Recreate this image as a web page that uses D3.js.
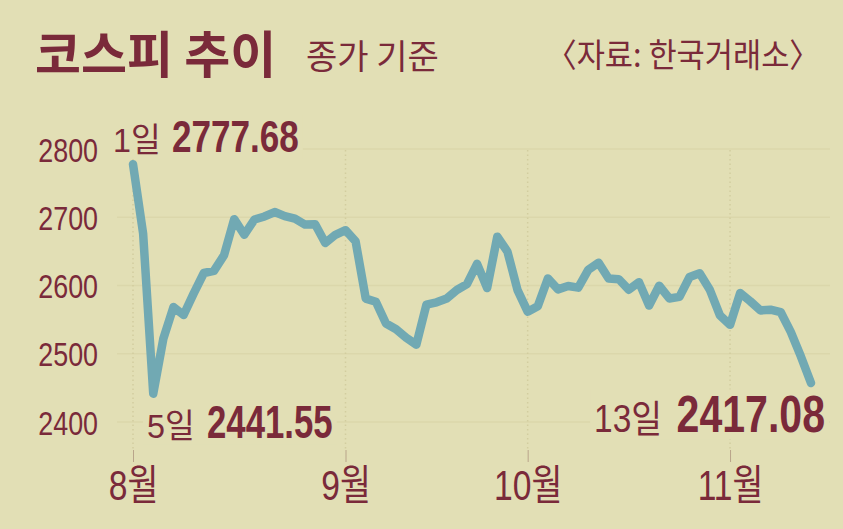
<!DOCTYPE html>
<html>
  <head>
    <meta http-equiv="Content-type" content="text/html; charset=utf-8">
    <title>코스피 추이</title>
    <script src="https://d3js.org/d3.v7.min.js"></script>
    <style>
      html, body { margin: 0; padding: 0; background: #e2dfb5; }
      svg { display: block; }
      .num { font-family: "Liberation Sans", Arial, "Noto Sans CJK KR", sans-serif; }
      .kr { font-family: "Noto Sans CJK KR", "Noto Sans", sans-serif; }
    </style>
  </head>
  <body>
    <div id="chart"></div>
    <script type="text/javascript">
      // KOSPI closing index, trading days 2024-08-01 .. 2024-11-13
      var dates = [
        "08-01","08-02","08-05","08-06","08-07","08-08","08-09","08-12","08-13","08-14",
        "08-16","08-19","08-20","08-21","08-22","08-23","08-26","08-27","08-28","08-29","08-30",
        "09-02","09-03","09-04","09-05","09-06","09-09","09-10","09-11","09-12","09-13",
        "09-19","09-20","09-23","09-24","09-25","09-26","09-27","09-30",
        "10-02","10-04","10-07","10-08","10-10","10-11","10-14","10-15","10-16","10-17",
        "10-18","10-21","10-22","10-23","10-24","10-25","10-28","10-29","10-30","10-31",
        "11-01","11-04","11-05","11-06","11-07","11-08","11-11","11-12","11-13"
      ];
      var closes = [
        2777.68, 2676.19, 2441.55, 2522.15, 2568.41, 2556.73, 2588.43, 2618.30, 2621.50, 2644.50,
        2697.23, 2674.36, 2696.63, 2701.13, 2707.67, 2701.69, 2698.01, 2689.25, 2689.83, 2662.28, 2674.31,
        2681.00, 2664.63, 2580.80, 2576.20, 2544.28, 2535.93, 2523.43, 2513.37, 2572.09, 2575.41,
        2580.80, 2593.37, 2602.01, 2631.68, 2596.32, 2671.57, 2649.78, 2593.27,
        2561.69, 2569.71, 2610.38, 2594.36, 2599.16, 2596.91, 2623.25, 2633.45, 2610.36, 2609.30,
        2593.82, 2604.92, 2570.70, 2599.62, 2581.03, 2583.27, 2612.43, 2617.80, 2593.79, 2556.15,
        2542.36, 2588.97, 2576.88, 2563.51, 2564.63, 2561.15, 2532.00, 2496.00, 2457.00
      ];
      var yTicks = [2400, 2500, 2600, 2700, 2800];
      var monthTicks = ["08-01", "09-02", "10-02", "11-01"];
      var monthLabels = ["8월", "9월", "10월", "11월"];

      var callDates = ["08-01", "08-05", "11-13"];
      var callDays = ["1일", "5일", "13일"];
      var callValues = ["2777.68", "2441.55", "2417.08"];

      var width = 843,
        height = 529;

      var bg = "#e2dfb5",
        maroon = "#7a2a3a",
        lineColor = "#71a9b3";

      var data = dates.map(function(d, i) { return { date: d, value: closes[i] }; });

      var x = d3.scalePoint()
        .domain(dates)
        .range([133, 811]);

      var y = d3.scaleLinear()
        .domain([2400, 2800])
        .range([422, 149]);

      var svg = d3.select("#chart").append("svg")
        .attr("width", width)
        .attr("height", height);

      svg.append("rect")
        .attr("width", width)
        .attr("height", height)
        .attr("fill", bg);

      // title block
      svg.append("text")
        .attr("class", "kr")
        .attr("x", 35)
        .attr("y", 73)
        .attr("fill", maroon)
        .style("font-size", "50px")
        .style("font-weight", "bold")
        .text("코스피 추이");

      svg.append("text")
        .attr("class", "kr")
        .attr("x", 306)
        .attr("y", 69)
        .attr("fill", maroon)
        .style("font-size", "34px")
        .text("종가 기준");

      svg.append("text")
        .attr("class", "kr")
        .attr("x", 546)
        .attr("y", 67)
        .attr("fill", maroon)
        .attr("textLength", 274)
        .attr("lengthAdjust", "spacingAndGlyphs")
        .style("font-size", "33px")
        .text("〈자료: 한국거래소〉");

      // horizontal grid
      svg.append("g")
        .selectAll("line")
        .data(yTicks)
        .enter().append("line")
        .attr("x1", 117)
        .attr("x2", 830)
        .attr("y1", function(d) { return y(d); })
        .attr("y2", function(d) { return y(d); })
        .attr("stroke", "#dbd7ab")
        .attr("stroke-width", 1.5);

      // dotted month guides
      svg.append("g")
        .selectAll("line")
        .data(monthTicks)
        .enter().append("line")
        .attr("x1", function(d) { return x(d); })
        .attr("x2", function(d) { return x(d); })
        .attr("y1", 150)
        .attr("y2", 450)
        .attr("stroke", "#d2cd9f")
        .attr("stroke-width", 1.5)
        .attr("stroke-dasharray", "1.5,3");

      // y axis labels (condensed)
      var yAxis = svg.append("g")
        .attr("class", "num")
        .attr("transform", "translate(98,0)")
        .call(d3.axisLeft(y).tickValues(yTicks).tickSize(0).tickPadding(0).tickFormat(d3.format("d")));
      yAxis.select(".domain").remove();
      yAxis.selectAll("text")
        .attr("fill", maroon)
        .attr("dy", "0.36em")
        .attr("transform", "scale(0.79,1)")
        .style("font-size", "34px");

      // x axis
      var xAxis = svg.append("g")
        .attr("class", "num")
        .attr("transform", "translate(0,450)")
        .call(d3.axisBottom(x)
          .tickValues(monthTicks)
          .tickSize(12)
          .tickPadding(8)
          .tickFormat(function(d, i) { return monthLabels[i]; }));
      xAxis.select(".domain").remove();
      xAxis.selectAll("line")
        .attr("stroke", "#b9a58a")
        .attr("stroke-width", 1);
      xAxis.selectAll("text")
        .attr("fill", maroon)
        .attr("transform", "scale(0.8,1)")
        .style("font-size", "42px");

      // callout labels: day at dayX, value at valueX, both on one baseline
      var labelPos = [
        { dayX: 113, valueX: 172, y: 152, anchor: "start", daySize: 34, daySx: 0.95, size: 45, sx: 0.78 },
        { dayX: 147, valueX: 207, y: 438, anchor: "start", daySize: 34, daySx: 0.95, size: 47, sx: 0.74 },
        { dayX: 662, valueX: 825, y: 432, anchor: "end", daySize: 38, daySx: 0.88, size: 52, sx: 0.79 }
      ];

      callDates.forEach(function(d, i) {
        var p = labelPos[i];
        var g = svg.append("g").attr("class", "num");
        var rect = g.append("rect").attr("fill", bg);

        g.append("text")
          .attr("transform", "translate(" + p.dayX + "," + p.y + ") scale(" + p.daySx + ",1)")
          .attr("text-anchor", p.anchor)
          .attr("fill", maroon)
          .style("font-size", p.daySize + "px")
          .text(callDays[i]);

        g.append("text")
          .attr("transform", "translate(" + p.valueX + "," + p.y + ") scale(" + p.sx + ",1)")
          .attr("text-anchor", p.anchor)
          .attr("fill", maroon)
          .style("font-size", p.size + "px")
          .style("font-weight", "bold")
          .text(callValues[i]);

        var b = g.node().getBBox();
        rect.attr("x", b.x - 4)
          .attr("y", b.y + 4)
          .attr("width", b.width + 8)
          .attr("height", b.height - 8);
      });

      // index line
      var line = d3.line()
        .x(function(d) { return x(d.date); })
        .y(function(d) { return y(d.value); });

      svg.append("path")
        .datum(data)
        .attr("d", line)
        .attr("fill", "none")
        .attr("stroke", lineColor)
        .attr("stroke-width", 8.5)
        .attr("stroke-linejoin", "round")
        .attr("stroke-linecap", "round");
    </script>
  </body>
</html>
